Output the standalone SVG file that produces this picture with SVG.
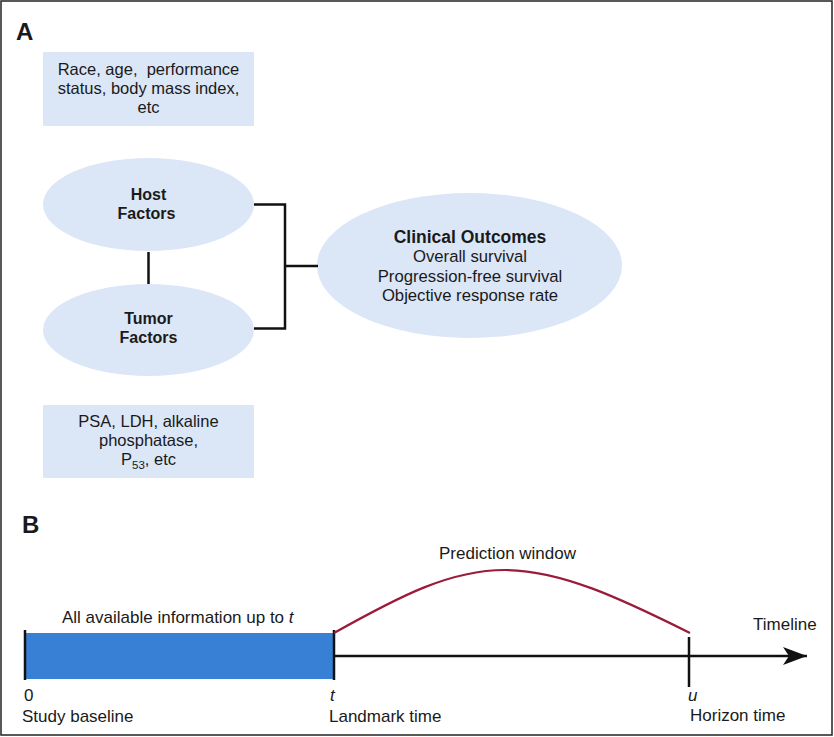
<svg xmlns="http://www.w3.org/2000/svg" width="834" height="737" viewBox="0 0 834 737">
<style>
text{font-family:"Liberation Sans",Arial,sans-serif;fill:#1a1a1a}
.lab{font-size:24px;font-weight:bold}
.t{font-size:16.5px;text-anchor:middle}
.c{font-size:16.7px;text-anchor:middle}
.b{font-size:16px;font-weight:bold;text-anchor:middle}
.cb{font-size:17.5px;font-weight:bold;text-anchor:middle}
.s{font-size:17px}
.i{font-style:italic}
.shape{fill:#dbe6f7}
.ln{stroke:#111;stroke-width:2.5;fill:none}
</style>
<defs>
<marker id="arr" markerWidth="26" markerHeight="20" refX="24" refY="10" orient="auto" markerUnits="userSpaceOnUse">
<path d="M0,1 L24,10 L0,19 L6,10 Z" fill="#111"/>
</marker>
</defs>
<rect x="1" y="1" width="831" height="734" fill="#fff" stroke="#222" stroke-width="1.5"/>
<text class="lab" x="16" y="40">A</text>
<text class="lab" x="22" y="533">B</text>
<g id="host-info">
<rect class="shape" x="43" y="52" width="211" height="74"/>
<text class="t" x="148.5" y="75" style="white-space:pre">Race, age,  performance</text>
<text class="t" x="148.5" y="94">status, body mass index,</text>
<text class="t" x="148.5" y="113">etc</text>
</g>
<g id="host">
<ellipse class="shape" cx="148.5" cy="204.5" rx="105.5" ry="46.5"/>
<text class="b" x="148.5" y="200">Host</text>
<text class="b" x="146.5" y="219">Factors</text>
</g>
<g id="tumor">
<ellipse class="shape" cx="148.5" cy="330" rx="105.5" ry="46"/>
<text class="b" x="148.5" y="324">Tumor</text>
<text class="b" x="148.5" y="343">Factors</text>
</g>
<g id="outcomes">
<ellipse class="shape" cx="469.5" cy="265.5" rx="152.5" ry="72.5"/>
<text class="cb" x="470" y="243">Clinical Outcomes</text>
<text class="c" x="470" y="262">Overall survival</text>
<text class="c" x="470" y="282">Progression-free survival</text>
<text class="c" x="470" y="301">Objective response rate</text>
</g>
<g id="tumor-info">
<rect class="shape" x="43" y="405" width="211" height="73"/>
<text class="t" x="148.5" y="427">PSA, LDH, alkaline</text>
<text class="t" x="148.5" y="446">phosphatase,</text>
<text class="t" x="148.5" y="465">P<tspan font-size="11.5" dy="4">53</tspan><tspan dy="-4">, etc</tspan></text>
</g>
<g id="connectors">
<line class="ln" x1="148.5" y1="252" x2="148.5" y2="284"/>
<polyline class="ln" points="254,204.5 285,204.5 285,328.5 254,328.5"/>
<line class="ln" x1="285" y1="266" x2="318" y2="266"/>
</g>
<g id="timeline">
<rect x="25" y="633" width="309" height="46" fill="#3780d6"/>
<line class="ln" x1="25" y1="630" x2="25" y2="680"/>
<line class="ln" x1="334" y1="630" x2="334" y2="680"/>
<line class="ln" x1="689" y1="637" x2="689" y2="687"/>
<line class="ln" x1="334" y1="656" x2="807" y2="656" marker-end="url(#arr)"/>
<path d="M334,633 C400,596 450,570 505,570 C560,570 620,598 690,633" fill="none" stroke="#9b1b3b" stroke-width="2.2"/>
<text class="s" x="439" y="559">Prediction window</text>
<text class="s" x="62" y="623">All available information up to <tspan class="i">t</tspan></text>
<text class="s" x="753" y="630">Timeline</text>
<text class="s" x="24" y="701">0</text>
<text class="s" x="22" y="722">Study baseline</text>
<text class="s i" x="330" y="701">t</text>
<text class="s" x="329" y="722">Landmark time</text>
<text class="s i" x="688" y="701">u</text>
<text class="s" x="690" y="721">Horizon time</text>
</g>
</svg>
